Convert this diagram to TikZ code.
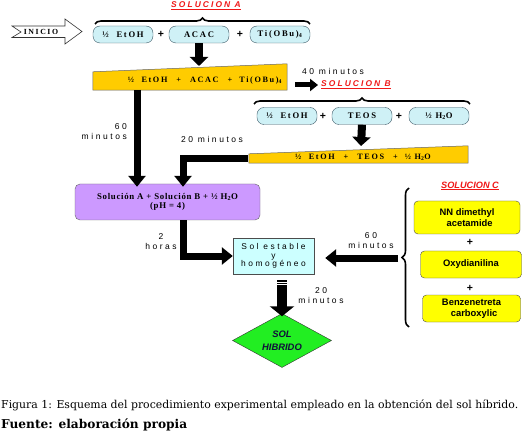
\documentclass[tikz,border=0pt]{standalone}
\usepackage{fontspec}
\setmainfont{Liberation Serif}
\setsansfont{Liberation Sans}
\newfontfamily\spacedsans[LetterSpace=30]{Liberation Sans}
\newfontfamily\redsans[LetterSpace=25]{Liberation Sans}
\newfontfamily\pillserif[LetterSpace=20]{Liberation Serif}
\newfontfamily\boxserif[LetterSpace=8]{Liberation Serif}
\newfontfamily\capserif{DejaVu Serif}
\usetikzlibrary{shapes.geometric,arrows.meta,decorations.pathreplacing,calc}
\definecolor{pillfill}{HTML}{CFF1F6}
\definecolor{pillline}{HTML}{3C5866}
\definecolor{gold}{HTML}{FFCC00}
\definecolor{lav}{HTML}{CC99FF}
\definecolor{cyanbox}{HTML}{CCFFFF}
\definecolor{ybox}{HTML}{FFFF00}
\definecolor{grn}{HTML}{22EE22}
\definecolor{redlab}{HTML}{F01818}
\definecolor{navy}{HTML}{10103A}
\tikzset{
  pill/.style={draw=pillline, fill=pillfill, rounded corners=7pt, minimum width=60pt,
    minimum height=17pt, inner sep=0pt, font=\pillserif\bfseries\fontsize{8.6}{8.6}\selectfont},
  plus/.style={inner sep=0pt, font=\sffamily\bfseries\fontsize{10.5}{10}\selectfont},
  lab/.style={inner sep=0pt, align=center, font=\spacedsans\fontsize{8.5}{10}\selectfont},
  sol/.style={inner sep=0pt, text=redlab, font=\redsans\bfseries\itshape\fontsize{8.4}{9}\selectfont},
  bigarrow/.style={line width=8pt, -{Triangle[length=9pt,width=18pt]}},
  midarrow/.style={line width=7pt, -{Triangle[length=11pt,width=17pt]}},
  smallarrow/.style={line width=5pt, -{Triangle[length=8pt,width=12pt]}},
  bracestyle/.style={line width=1.6pt, decorate},
  ycbox/.style={draw=black!70, fill=ybox, rounded corners=4pt, inner sep=0pt, align=center,
    font=\sffamily\bfseries\fontsize{9.4}{10.5}\selectfont},
  geo/.style={inner sep=0pt, draw=none},
  traptext/.style={inner sep=0pt, font=\pillserif\bfseries\fontsize{8.2}{8}\selectfont}
}
\begin{document}
\begin{tikzpicture}[x=1pt,y=-1pt]
\useasboundingbox[fill=white] (0,0) rectangle (528,433);

% INICIO arrow
\draw[black!80, line width=0.6pt] (12,26) -- (65,26) -- (65,19) -- (82,31.5) -- (65,44) -- (65,37.5) -- (12,37.5) -- (21,32) -- cycle;
\node[inner sep=0pt, font=\pillserif\bfseries\fontsize{7.8}{8}\selectfont] (inicio) at (41,32) {INICIO};

% Solucion A
\node[sol] (solA) at (206,6) {\underline{SOLUCION A}};
\draw[bracestyle, decoration={brace, amplitude=6pt}] (95,24) -- (310,24);
\node[pill] (etA) at (123,34.5) {½ \ EtOH};
\node[plus] (p1) at (161,34.5) {+};
\node[pill] (acac) at (199,34.5) {ACAC};
\node[plus] (p2) at (240,34.5) {+};
\node[pill] (ti) at (280,34.5) {Ti(OBu)\textsubscript{4}};

% Trapezoid A
\node[geo, minimum width=194pt, minimum height=18pt] (tA) at (190,81) {};
\draw[draw=black!60, fill=gold, line width=0.5pt] (tA.south west) -- (tA.north west) -- ($(tA.north east)+(0,-8)$) -- (tA.south east) -- cycle;
\node[traptext] (tAtext) at (205,80.5) {½ \ EtOH\hspace{9pt}+\hspace{9pt}ACAC\hspace{9pt}+\hspace{7pt}Ti(OBu)\textsubscript{4}};
\coordinate (tAtop) at (199,66);
\draw[bigarrow] (acac.south) -- (tAtop);

% 40 minutos -> Solucion B
\node[lab] (l40) at (333,71) {40 minutos};
\node[sol] (solB) at (356,85) {\underline{SOLUCION B}};
\coordinate (a40) at (295,85);
\draw[smallarrow] (a40) -- ([xshift=-3pt]solB.west |- a40);

% Solucion B row
\draw[bracestyle, decoration={brace, amplitude=6pt}] (254,104) -- (470,104);
\node[pill] (etB) at (287,116) {½ \ EtOH};
\node[plus] (p3) at (323,116) {+};
\node[pill] (teos) at (362,116) {TEOS};
\node[plus] (p4) at (399,116) {+};
\node[pill] (h2o) at (439,116) {½ H\textsubscript{2}O};

% Trapezoid B
\node[geo, minimum width=219pt, minimum height=9pt] (tB) at (358.5,158.5) {};
\draw[draw=black!60, fill=gold, line width=0.5pt] (tB.south west) -- (tB.north west) -- ($(tB.north east)+(0,-8)$) -- (tB.south east) -- cycle;
\node[traptext] (tBtext) at (363,157.5) {½ \ EtOH\hspace{9pt}+\hspace{9pt}TEOS\hspace{9pt}+\hspace{7pt}½ H\textsubscript{2}O};
\coordinate (tBtop) at (361,146);
\draw[bigarrow] (teos.south) -- (tBtop);

% Purple box
\node[draw=black!60, fill=lav, rounded corners=5pt, minimum width=185pt, minimum height=36pt,
  inner sep=0pt, align=center, font=\boxserif\bfseries\fontsize{8.8}{9.5}\selectfont] (purp) at (167.5,202)
  {Solución A + Solución B + ½ H\textsubscript{2}O\\(pH = 4)};

% 60 minutos arrow from A
\coordinate (a60) at (137,90);
\draw[midarrow] (a60) -- ([yshift=-3pt]a60 |- purp.north);
\node[lab, align=right, anchor=east] (l60a) at (127,132) {60\\minutos};

% 20 minutos L arrow from B
\node[lab] (l20a) at (212,139) {20 minutos};
\coordinate (pin) at (183,0);
\draw[midarrow] ([xshift=-1pt]tB.west) -| ([yshift=-3pt]pin |- purp.north);

% Cyan box
\node[draw=black!70, fill=cyanbox, minimum width=81pt, minimum height=36pt, inner sep=0pt,
  align=center, font=\spacedsans\fontsize{8.4}{8.6}\selectfont] (cyan) at (273.5,256)
  {Sol estable\\y\\homogéneo};

% 2 horas
\draw[midarrow] (pin |- purp.south) |- (cyan.west);
\node[lab] (l2h) at (161,242) {2\\horas};

% Solucion C
\node[sol, font=\sffamily\bfseries\itshape\fontsize{9.2}{10}\selectfont] (solC) at (470,186) {\underline{SOLUCION C}};
\draw[bracestyle, decoration={brace, amplitude=7pt}] (409,327) -- (409,188);
\node[ycbox, minimum width=106pt, minimum height=33pt] (nn) at (467,217.5) {NN dimethyl\\\ \ acetamide};
\node[plus] (p5) at (470,242) {+};
\node[ycbox, minimum width=101pt, minimum height=27pt] (oxy) at (471,264.5) {Oxydianilina};
\node[plus] (p6) at (470,288) {+};
\node[ycbox, minimum width=98pt, minimum height=27pt] (benz) at (471.5,308.5) {Benzenetreta\\\ \ carboxylic};

% 60 minutos arrow from C
\coordinate (bc) at (398,258);
\draw[midarrow] (bc) -- ([xshift=11pt]bc -| cyan.east);
\node[lab] (l60c) at (371,241) {60\\minutos};

% Diamond
\node[diamond, draw=black!80, fill=grn, aspect=2, inner sep=0pt, minimum width=99pt, minimum height=54pt,
  align=center, text=navy, font=\sffamily\bfseries\itshape\fontsize{9.4}{13}\selectfont] (dia) at (282,340.5)
  {SOL\\HIBRIDO};

% 20 minutos down arrow
\coordinate (d20) at (282,280);
\draw[line width=10pt, -{Triangle[length=10pt,width=24pt]}] (d20) -- ([yshift=-3pt]dia.north);
\draw[white, line width=0.7pt] (276,282) -- (288,282) (276,284.2) -- (288,284.2);
\node[lab] (l20b) at (321,295.5) {20\\minutos};

% Caption
\node[anchor=west, inner sep=0pt] (cap) at (1,405.5)
  {\resizebox{517pt}{!}{\capserif\fontsize{11}{12}\selectfont Figura 1: Esquema del procedimiento experimental empleado en la obtención del sol híbrido.}};
\node[anchor=west, inner sep=0pt] (src) at (1,424.5)
  {\resizebox{186pt}{!}{\capserif\bfseries\fontsize{7}{8}\selectfont Fuente: elaboración propia}};
\end{tikzpicture}
\end{document}
